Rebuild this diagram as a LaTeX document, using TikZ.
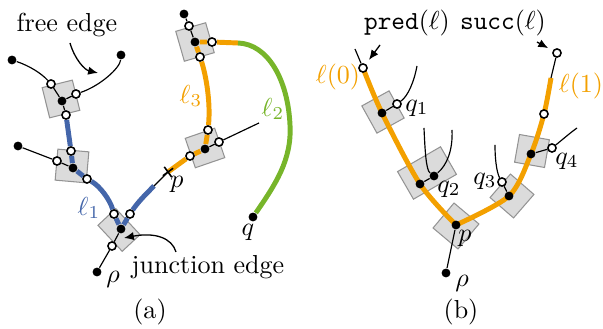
\documentclass[tikz,border=0pt]{standalone}
\usepackage{amsmath}
\usetikzlibrary{arrows.meta, shapes.misc, backgrounds}
\definecolor{lblue}{RGB}{68,102,170}
\definecolor{lorange}{RGB}{243,160,0}
\definecolor{lgreen}{RGB}{119,181,42}
\tikzset{
    box/.style={draw=gray!85, fill=gray!28, minimum size=0.42cm, inner sep=0pt},
    bdot/.style={circle, fill=black, minimum size=0.12cm, inner sep=0pt},
    wdot/.style={circle, draw=black, line width=0.6pt, fill=white, minimum size=0.11cm, inner sep=0pt},
    edge/.style={line width=0.45pt, black},
    arrow/.style={-{Latex[length=3.8pt, width=3.2pt]}, line width=0.5pt, black},
    bluepath/.style={line width=1.9pt, lblue},
    orangepath/.style={line width=1.9pt, lorange, line join=round},
    greenpath/.style={line width=1.9pt, lgreen}
}
\begin{document}
\begin{tikzpicture}[x=0.0135cm, y=-0.0135cm]
    \useasboundingbox (0,0) rectangle (603,329);
    \node[bdot] (rhoA) at (97,272) {};
    \node[wdot] (jw0) at (112,246) {};
    \node[bdot] (jc) at (121,229) {};
    \node[wdot] (jwl) at (114,214) {};
    \node[wdot] (jwr) at (130,214) {};
    \node[wdot] (mw0) at (57,161) {};
    \node[bdot] (mc) at (73,168) {};
    \node[wdot] (mwt) at (71,151) {};
    \node[wdot] (mwb) at (87,179) {};
    \node[bdot] (mfree) at (18,146) {};
    \node[bdot] (tc) at (62,101) {};
    \node[wdot] (tw1) at (51,84) {};
    \node[wdot] (tw2) at (76,94) {};
    \node[wdot] (tw3) at (66,115) {};
    \node[bdot] (tfree1) at (12,60) {};
    \node[bdot] (tfree2) at (121,55) {};
    \node[bdot] (rc) at (205,149) {};
    \node[wdot] (rw1) at (190,156) {};
    \node[wdot] (rw2) at (208,130) {};
    \node[wdot] (rw3) at (219,142) {};
    \coordinate (rfree) at (259,123);
    \node[bdot] (uc) at (195,42) {};
    \node[wdot] (uw1) at (189,26) {};
    \node[wdot] (uw2) at (212,42) {};
    \node[wdot] (uw3) at (200,57) {};
    \node[bdot] (ufree) at (184,14) {};
    \coordinate (b1end) at (154,186);
    \node[draw, cross out, line width=0.6pt, minimum size=0.1cm, inner sep=0pt, rotate=-9] (pmark) at (168,172) {};
    \coordinate (gstart) at (238,43);
    \coordinate (gmid) at (290,125);
    \node[bdot] (qA) at (253,217) {};

    \node (rhoAl) at (113,279) {$\rho$};
    \node (pAl) at (177,184) {$p$};
    \node (qAl) at (248,232) {$q$};
    \node[text=lblue] (l1) at (89,208) {$\ell_1$};
    \node[text=lgreen] (l2) at (273,109) {$\ell_2$};
    \node[text=lorange] (l3) at (191,96) {$\ell_3$};
    \node (freetxt) at (67,25) {free edge};
    \node (junctxt) at (208,267) {junction edge};
    \node (capA) at (150,312) {(a)};
    \coordinate (fa) at (70,43);
    \coordinate (fb) at (98,73);
    \draw[arrow] (fa) .. controls (75,60) and (85,70) .. (fb);
    \coordinate (ja) at (176,252);
    \coordinate (jb) at (124,238);
    \draw[arrow] (ja) .. controls (172,238) and (155,232) .. (jb);

    \node[wdot] (bw0) at (363,68) {};
    \coordinate (bpre) at (355,49);
    \node[bdot] (b1c) at (382,113) {};
    \node[wdot] (q1w) at (397,104) {};
    \coordinate (q1free) at (417,66);
    \node[bdot] (q2a) at (420,184) {};
    \node[bdot] (q2d) at (434,176) {};
    \coordinate (q2fl) at (424,128);
    \coordinate (q2fr) at (452,130);
    \node[bdot] (pB) at (456,225) {};
    \node[bdot] (rhoB) at (446,273) {};
    \node[bdot] (q3c) at (509,196) {};
    \node[wdot] (q3w) at (502,182) {};
    \coordinate (q3free) at (495,145);
    \node[bdot] (q4c) at (531,154) {};
    \node[wdot] (q4w) at (552,148) {};
    \coordinate (q4free) at (577,128);
    \node[wdot] (bw1) at (544,114) {};
    \coordinate (oend) at (551,78);
    \node[wdot] (bw2) at (557,53) {};

    \node (predtxt) at (407,23) {\texttt{pred}$(\ell)$};
    \node (succtxt) at (503,23) {\texttt{succ}$(\ell)$};
    \node[text=lorange] (l0) at (338,77) {$\ell(0)$};
    \node[text=lorange] (l1b) at (581,86) {$\ell(1)$};
    \node (q1l) at (417,108) {$q_1$};
    \node (q2l) at (449,189) {$q_2$};
    \node (q3l) at (485,181) {$q_3$};
    \node (q4l) at (567,161) {$q_4$};
    \node (pBl) at (465,238) {$p$};
    \node (rhoBl) at (462,283) {$\rho$};
    \node (capB) at (461,312) {(b)};
    \coordinate (pa) at (380,45);
    \coordinate (sa) at (537,42);
    \draw[arrow, shorten >=2pt] (pa) -- (bw0);
    \draw[arrow, shorten >=2pt] (sa) -- (bw2);

    \begin{scope}[on background layer]
        \node[box, rotate=14] (tbox) at (61,99) {};
        \node[box, rotate=-5] (mbox) at (72,166) {};
        \node[box, rotate=-47, minimum width=0.48cm, minimum height=0.33cm] (jbox) at (119,230) {};
        \node[box, rotate=19] (rbox) at (205,148) {};
        \node[box, rotate=16] (ubox) at (195,42) {};
        \node[box, rotate=29] (b1box) at (383,112) {};
        \node[box, rotate=30, minimum width=0.67cm, minimum height=0.43cm] (q2box) at (427,173) {};
        \node[box, rotate=50, minimum size=0.44cm] (pbox) at (456,226) {};
        \node[box, rotate=49] (q3box) at (512,196) {};
        \node[box, rotate=-10, minimum width=0.41cm, minimum height=0.38cm] (q4box) at (532,151) {};

        \draw[bluepath] (tw3) -- (mwt) -- (mc) -- (mwb) .. controls (100,186) and (110,200) .. (jwl) -- (jc) -- (jwr) .. controls (138,202) and (146,194) .. (b1end);
        \draw[orangepath] (pmark.center) -- (rw1) -- (rc) -- (rw2) .. controls (211,100) and (205,72) .. (uw3) -- (uc) -- (uw2) -- (gstart);
        \draw[greenpath] (gstart) .. controls (268,44) and (288,80) .. (gmid) .. controls (292,160) and (275,185) .. (qA);
        \draw[orangepath] plot[smooth] coordinates {(bw0.center) (b1c.center) (q2a.center) (pB.center)};
        \draw[orangepath] plot[smooth] coordinates {(pB.center) (q3c.center) (q4c.center) (bw1.center) (oend)};

        \draw[edge] (tfree1) .. controls (30,66) and (42,74) .. (tw1) -- (tc) -- (tw3);
        \draw[edge] (tfree2) .. controls (120,68) and (100,86) .. (tw2) -- (tc);
        \draw[edge] (mfree) -- (mw0) -- (mc);
        \draw[edge] (rhoA) -- (jw0) -- (jc);
        \draw[edge] (b1end) -- (pmark.center);
        \draw[edge] (rc) -- (rw3) -- (rfree);
        \draw[edge] (ufree) -- (uw1) -- (uc);
        \draw[edge] (bpre) -- (bw0);
        \draw[edge] (oend) -- (bw2);
        \draw[edge] (b1c) -- (q1w) .. controls (408,96) and (414,82) .. (q1free);
        \draw[edge] (q2a) -- (q2d);
        \draw[edge] (q2fl) .. controls (425,150) and (426,170) .. (q2d);
        \draw[edge] (q2fr) .. controls (453,150) and (447,165) .. (q2d);
        \draw[edge] (pB) -- (rhoB);
        \draw[edge] (q3free) .. controls (495,165) and (498,175) .. (q3w) -- (q3c);
        \draw[edge] (q4c) -- (q4w) .. controls (562,140) and (570,133) .. (q4free);
    \end{scope}
\end{tikzpicture}
\end{document}
